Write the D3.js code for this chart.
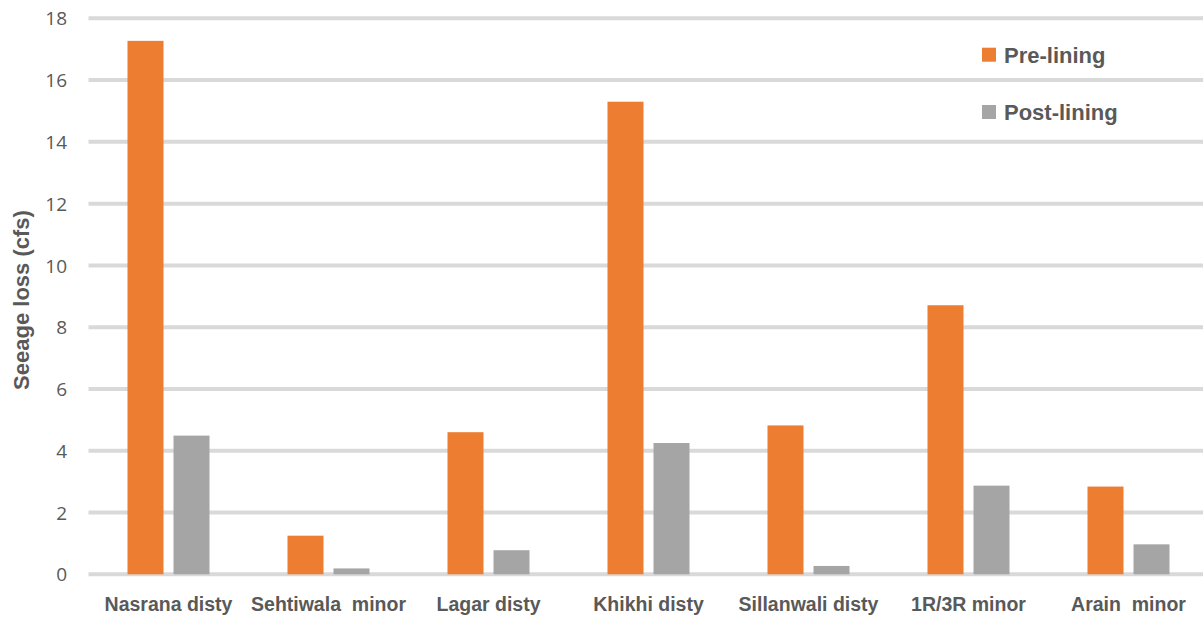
<!DOCTYPE html>
<html>
<head>
<meta charset="utf-8">
<script src="https://cdn.jsdelivr.net/npm/d3@7"></script>
<style>
  html, body { margin: 0; padding: 0; background: #fff; }
  svg { display: block; }
  text { white-space: pre; }
</style>
</head>
<body>
<svg id="chart" width="1203" height="621"></svg>
<script>
// Seepage loss per canal, before and after lining (cfs)
const categories = ["Nasrana disty", "Sehtiwala  minor", "Lagar disty", "Khikhi disty",
                    "Sillanwali disty", "1R/3R minor", "Arain  minor"];
const seriesNames = ["Pre-lining", "Post-lining"];
const preLining  = [17.27, 1.25, 4.60, 15.30, 4.82, 8.71, 2.84];
const postLining = [4.49, 0.19, 0.78, 4.25, 0.27, 2.87, 0.97];
const yTicks = [0, 2, 4, 6, 8, 10, 12, 14, 16, 18];
const colors = ["#ED7D31", "#A5A5A5"];

const svg = d3.select("#chart");
const plot = { left: 88.5, right: 1208.5, top: 18.3, bottom: 574.3 };

const y = d3.scaleLinear().domain([0, 18]).range([plot.bottom, plot.top]);

const x0 = d3.scaleBand()
  .domain(categories)
  .range([plot.left, plot.right])
  .paddingInner(0.4875)
  .paddingOuter(0.4875 / 2);

const x1 = d3.scaleBand()
  .domain(seriesNames)
  .range([0, x0.bandwidth()])
  .paddingInner(0.2174)
  .paddingOuter(0);

// horizontal gridlines
svg.append("g")
  .selectAll("line")
  .data(yTicks)
  .join("line")
  .attr("x1", plot.left)
  .attr("x2", 1203)
  .attr("y1", d => y(d))
  .attr("y2", d => y(d))
  .attr("stroke", "#D9D9D9")
  .attr("stroke-width", 4);

// y tick labels
const yAxis = d3.axisLeft(y).tickValues(yTicks).tickSize(0).tickPadding(0);
const gy = svg.append("g").attr("transform", `translate(67,0)`).call(yAxis);
gy.select(".domain").remove();
gy.selectAll("text")
  .attr("font-family", "'Open Sans', sans-serif")
  .attr("font-size", 19)
  .attr("fill", "#595959")
  .attr("dy", "0.35em");

// bars
const rows = categories.map((c, i) => ({ cat: c, values: [preLining[i], postLining[i]] }));
const groups = svg.append("g")
  .selectAll("g")
  .data(rows)
  .join("g")
  .attr("transform", d => `translate(${x0(d.cat)},0)`);

groups.selectAll("rect")
  .data(d => d.values.map((v, j) => ({ key: seriesNames[j], value: v, j })))
  .join("rect")
  .attr("x", d => x1(d.key))
  .attr("width", x1.bandwidth())
  .attr("y", d => y(d.value))
  .attr("height", d => y(0) - y(d.value))
  .attr("fill", d => colors[d.j]);

// category labels
const xAxis = d3.axisBottom(x0).tickSize(0).tickPadding(0);
const gx = svg.append("g").attr("transform", `translate(0,${plot.bottom})`).call(xAxis);
gx.select(".domain").remove();
gx.selectAll("text")
  .attr("font-family", "'Liberation Sans', Arial, sans-serif")
  .attr("font-weight", "bold")
  .attr("font-size", 19.5)
  .attr("fill", "#595959")
  .attr("dy", 0)
  .attr("y", 37);

// y axis title
svg.append("text")
  .attr("transform", "translate(29,300) rotate(-90)")
  .attr("text-anchor", "middle")
  .attr("font-family", "'Liberation Sans', Arial, sans-serif")
  .attr("font-weight", "bold")
  .attr("font-size", 22)
  .attr("fill", "#595959")
  .text("Seeage loss (cfs)");

// legend
const legend = svg.append("g")
  .selectAll("g")
  .data(seriesNames)
  .join("g")
  .attr("transform", (d, i) => `translate(982,${47.7 + i * 57.3})`);
legend.append("rect")
  .attr("width", 14)
  .attr("height", 14)
  .attr("fill", (d, i) => colors[i]);
legend.append("text")
  .attr("x", 22)
  .attr("y", 15)
  .attr("font-family", "'Liberation Sans', Arial, sans-serif")
  .attr("font-weight", "bold")
  .attr("font-size", 22)
  .attr("fill", "#595959")
  .text(d => d);
</script>
</body>
</html>
